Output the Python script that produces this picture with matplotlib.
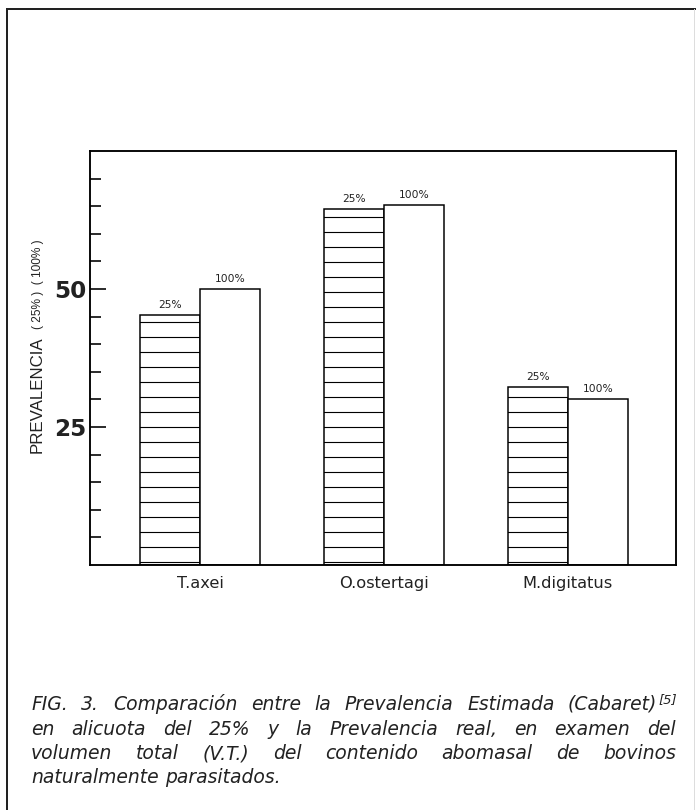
import matplotlib
matplotlib.use("Agg")
import matplotlib.pyplot as plt
from matplotlib.lines import Line2D
import numpy as np

# values
species = ["T.axei", "O.ostertagi", "M.digitatus"]
prev_25 = [45.2, 64.5, 32.2]
prev_100 = [50.0, 65.2, 30.0]
bar_tags = ["25%", "100%"]
ytick_major = [25, 50]
ytick_minor = [5, 10, 15, 20, 30, 35, 40, 45, 55, 60, 65, 70]

caption = [
    "FIG. 3. Comparación entre la Prevalencia Estimada (Cabaret)",
    "en alicuota del 25% y la Prevalencia real, en examen del",
    "volumen total (V.T.) del contenido abomasal de bovinos",
    "naturalmente parasitados.",
]
caption_ref = "[5]"

W, H, DPI = 696, 810, 90
plt.rcParams["hatch.linewidth"] = 0.9
plt.rcParams["font.family"] = ["Liberation Sans", "DejaVu Sans"]

fig = plt.figure(figsize=(W / DPI, H / DPI), dpi=DPI)


def px(x, y):
    return x / W, 1 - y / H


# outer frame of the scanned page
frame = dict(color="#222222", lw=1.6, transform=fig.transFigure)
fig.add_artist(Line2D([7 / W, 7 / W], [0, 1 - 9 / H], **frame))
fig.add_artist(Line2D([7 / W, 1], [1 - 9 / H, 1 - 9 / H], **frame))
fig.add_artist(Line2D([694 / W, 694 / W], [0, 1 - 9 / H], color="#dddddd", lw=0.8,
                      transform=fig.transFigure))

ax = fig.add_axes([90 / W, 1 - 565 / H, (676 - 90) / W, (565 - 151) / H])
x = np.arange(len(species))
w = 0.326
b1 = ax.bar(x - w / 2, prev_25, w, facecolor="white", edgecolor="black", hatch="-", lw=1.2)
b2 = ax.bar(x + w / 2, prev_100, w, facecolor="white", edgecolor="black", lw=1.2)
ax.bar_label(b1, labels=[bar_tags[0]] * len(species), padding=4, fontsize=8.5,
             family="DejaVu Sans", color="#222222")
ax.bar_label(b2, labels=[bar_tags[1]] * len(species), padding=4, fontsize=8.5,
             family="DejaVu Sans", color="#222222")

ax.set_xlim(-0.598, 2.587)
ax.set_ylim(0, 75)
ax.set_yticks(ytick_major)
ax.set_yticklabels([str(v) for v in ytick_major], fontsize=18.5, fontweight="bold",
                   family="DejaVu Sans", color="#222222")
ax.set_yticks(ytick_minor, minor=True)
ax.tick_params(axis="y", which="major", direction="in", length=13, width=1.3, pad=3)
ax.tick_params(axis="y", which="minor", direction="in", length=9, width=1.3)
ax.set_xticks(x)
ax.set_xticklabels(species, fontsize=13, family="DejaVu Sans", color="#222222")
ax.tick_params(axis="x", length=0, pad=9)
for s in ax.spines.values():
    s.set_linewidth(1.5)

# y label: two pieces of different size
fig.text(*px(37, 395), "PREVALENCIA", rotation=90, ha="center", va="center",
         fontsize=13.5, color="#222222")
fig.text(*px(38, 284), "( 25% )  ( 100% )", rotation=90, ha="center", va="center",
         fontsize=9.5, color="#222222")

# justified italic caption
r = fig.canvas.get_renderer()
cap_kw = dict(fontsize=15, style="italic", family="DejaVu Sans", color="#222222",
              va="baseline", ha="left")
x0, x1 = 31, 676
baselines = [710, 735, 759, 783]


def measure(s, **kw):
    t = fig.text(0, 0, s, **kw)
    wd = t.get_window_extent(r).width
    return t, wd


ta, wa = measure("a a", **cap_kw)
tb, wb = measure("aa", **cap_kw)
space_w = wa - wb
ta.remove()
tb.remove()

for i, line in enumerate(caption):
    words = line.split(" ")
    items = [measure(wd, **cap_kw) for wd in words]
    sup = None
    sup_w = 0
    if i == 0:
        sup, sup_w = measure(caption_ref, fontsize=10.5, style="italic", family="DejaVu Sans",
                             color="#222222", va="baseline", ha="left")
    total = sum(wd for _, wd in items)
    if i < len(caption) - 1:
        gap = (x1 - x0 - total - sup_w) / (len(items) - 1)
    else:
        gap = space_w
    xx = x0
    for t, wd in items:
        t.set_position(px(xx, baselines[i]))
        xx += wd + gap
    if sup is not None:
        sup.set_position(px(xx - gap + 1, baselines[i] - 7))

fig.savefig("out.png", dpi=DPI)
